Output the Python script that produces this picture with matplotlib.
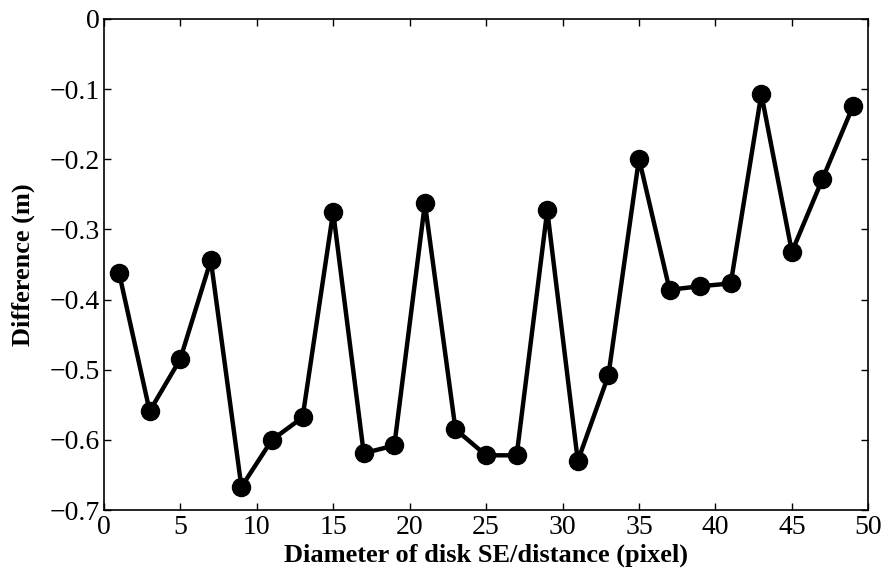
import numpy as np
import matplotlib.pyplot as plt

# disk SE diameter (pixel) and height difference (m)
diameter = [1, 3, 5, 7, 9, 11, 13, 15, 17, 19, 21, 23, 25,
            27, 29, 31, 33, 35, 37, 39, 41, 43, 45, 47, 49]
difference = [-0.362, -0.559, -0.485, -0.344, -0.667, -0.600, -0.568, -0.275,
              -0.619, -0.608, -0.263, -0.585, -0.622, -0.622, -0.273, -0.630,
              -0.508, -0.199, -0.386, -0.381, -0.377, -0.107, -0.332, -0.228,
              -0.124]

plt.rcParams['font.family'] = ['Liberation Serif', 'DejaVu Serif']

fig = plt.figure(figsize=(8.87, 5.75), dpi=100)
ax = fig.add_axes([0.117, 0.113, 0.862, 0.854])

ax.plot(diameter, difference, color='black', linewidth=3.2,
        marker='o', markersize=13, markerfacecolor='black')

ax.set_xlim(0, 50)
ax.set_ylim(-0.7, 0)
ax.set_xticks(np.arange(0, 51, 5))
ax.set_yticks(np.arange(-0.7, 0.01, 0.1))
ax.set_yticklabels(['\u22120.7', '\u22120.6', '\u22120.5', '\u22120.4',
                    '\u22120.3', '\u22120.2', '\u22120.1', '0'])
ax.tick_params(direction='in', top=True, right=True, labelsize=20,
               length=5, width=1)
ax.tick_params(axis='y', pad=3)
for s in ax.spines.values():
    s.set_linewidth(1.2)

ax.set_xlabel('Diameter of disk SE/distance (pixel)', fontsize=19,
              fontweight='bold', labelpad=3)
ax.set_ylabel('Difference (m)', fontsize=19, fontweight='bold', labelpad=10)

fig.savefig('out.png', dpi=100)
